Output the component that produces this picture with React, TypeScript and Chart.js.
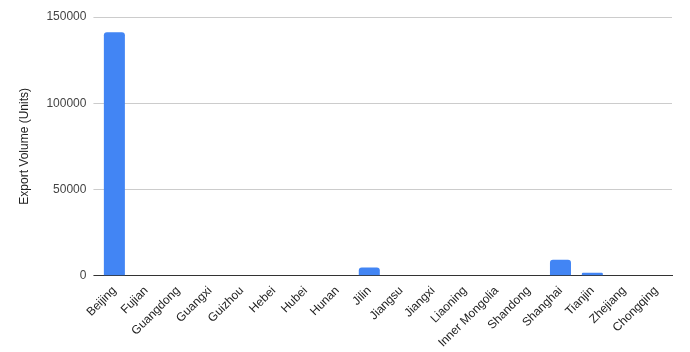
import React, { useEffect, useRef } from "react";
import { Chart, registerables } from "chart.js";

Chart.register(...registerables);

const provinces = [
  "Beijing", "Fujian", "Guangdong", "Guangxi", "Guizhou", "Hebei", "Hubei", "Hunan",
  "Jilin", "Jiangsu", "Jiangxi", "Liaoning", "Inner Mongolia", "Shandong", "Shanghai",
  "Tianjin", "Zhejiang", "Chongqing",
];

const exportVolume = [
  141200, 0, 0, 0, 0, 0, 0, 0, 4800, 0, 0, 0, 0, 0, 9300, 1750, 0, 0,
];

const yTicks = [0, 50000, 100000, 150000];

export default function App() {
  const canvasRef = useRef<HTMLCanvasElement | null>(null);

  useEffect(() => {
    const ctx = canvasRef.current;
    if (!ctx) return;
    const font = { family: "Arial, 'Liberation Sans', sans-serif", size: 12 };
    const chart = new Chart(ctx, {
      type: "bar",
      data: {
        labels: provinces,
        datasets: [
          {
            label: "Export Volume (Units)",
            data: exportVolume,
            backgroundColor: "#4285F4",
            borderRadius: { topLeft: 3, topRight: 3, bottomLeft: 0, bottomRight: 0 },
            borderSkipped: "bottom",
            categoryPercentage: 0.66,
            barPercentage: 1,
          },
        ],
      },
      options: {
        animation: false,
        responsive: false,
        maintainAspectRatio: false,
        layout: { padding: { top: 17, right: 18, bottom: 2, left: 17 } },
        plugins: { legend: { display: false }, tooltip: { enabled: false } },
        scales: {
          x: {
            grid: { display: false },
            border: { display: true, color: "#333333", width: 1 },
            ticks: {
              color: "#222222",
              font: { ...font, size: 12 },
              minRotation: 45,
              maxRotation: 45,
              autoSkip: false,
              padding: 0,
            },
          },
          y: {
            min: 0,
            max: 150000,
            afterBuildTicks: (axis: any) => {
              axis.ticks = yTicks.map((v) => ({ value: v }));
            },
            grid: {
              color: (c: any) => (c.tick && c.tick.value === 0 ? "#333333" : "#cccccc"),
              drawTicks: true,
              tickLength: 5,
              tickColor: (c: any) => (c.tick && c.tick.value === 0 ? "#333333" : "#cccccc"),
            },
            border: { display: false },
            ticks: {
              color: "#444444",
              font,
              padding: 7,
              callback: (v: any) => String(v),
            },
            title: {
              display: true,
              text: "Export Volume (Units)",
              color: "#222222",
              font,
              padding: { top: 0, bottom: 8 },
            },
          },
        },
      },
    });
    return () => chart.destroy();
  }, []);

  return (
    <div style={{ position: "absolute", left: 0, top: 0, width: 690, height: 352, background: "#fff" }}>
      <canvas ref={canvasRef} width={690} height={352} style={{ width: 690, height: 352 }} />
    </div>
  );
}
